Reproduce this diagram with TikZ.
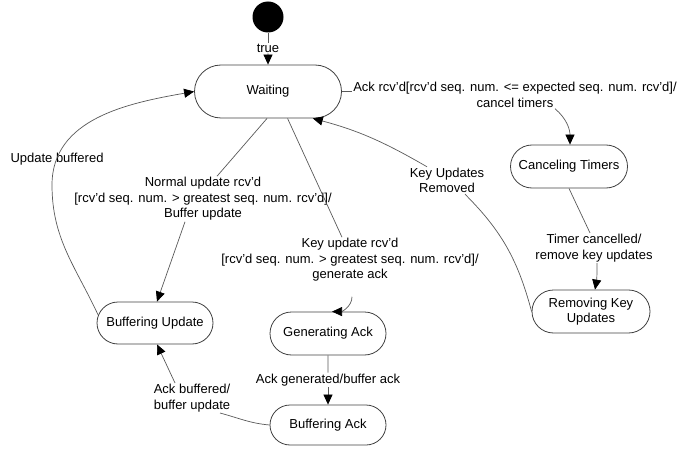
\documentclass[tikz,border=0pt]{standalone}
\usepackage{fontspec}
\setmainfont{Liberation Sans}
\usetikzlibrary{arrows.meta,shapes.misc}

\tikzset{
  state/.style={rounded rectangle, draw=black!75, line width=0.8pt,
                minimum width=120pt, minimum height=43pt, inner sep=2pt, align=center},
  lbl/.style={inner sep=1pt, align=center},
  link/.style={draw=black!65, line width=0.7pt},
  arr/.style={link, -{Triangle[length=10pt,width=9pt,color=black]}},
}

\begin{document}
\begin{tikzpicture}[x=1pt, y=1pt, every node/.style={font=\fontsize{13}{15.5}\selectfont}]
\useasboundingbox (0,0) rectangle (683,448);

%% === stati ===
\node[circle, fill=black, minimum size=31pt, inner sep=0pt] (init) at (268,431) {};
\node[state, minimum width=151pt, minimum height=53pt] (wait)   at (268,356.5) {Waiting};
\node[state, minimum width=121pt]                      (cancel) at (569,281.5) {Canceling Timers};
\node[state, minimum width=122pt]                      (remove) at (591,136.5) {Removing Key\\Updates};
\node[state, minimum height=42pt]                      (bufupd) at (155,125)   {Buffering Update};
\node[state]                                           (genack) at (328,114.5) {Generating Ack};
\node[state, minimum height=40pt]                      (bufack) at (328,23)    {Buffering Ack};

%% === etichette delle transizioni ===
\node[lbl] (truel) at (268,400) {true};
\node[lbl] (ackl)  at (515,353) {Ack rcv'd[rcv'd seq. num. <= expected seq. num. rcv'd]/\\cancel timers};
\node[lbl] (tcl)   at (594,200) {Timer cancelled/\\remove key updates};
\node[lbl] (kur)   at (447,267.5) {Key Updates\\Removed};
\node[lbl] (upb)   at (57,289)  {Update buffered};
\node[lbl] (nul)   at (203,249) {Normal update rcv'd\\{}[rcv'd seq. num. > greatest seq. num. rcv'd]/\\Buffer update};
\node[lbl] (kul)   at (350,188) {Key update rcv'd\\{}[rcv'd seq. num. > greatest seq. num. rcv'd]/\\generate ack};
\node[lbl] (agl)   at (328,68)  {Ack generated/buffer ack};
\node[lbl] (abl)   at (192,50)  {Ack buffered/\\buffer update};
\coordinate (ubturn) at (52,263);

%% === transizioni ===
\draw[link] (init) -- (truel);
\draw[arr]  (truel) -- (wait);

\draw[link] (wait.east) -- (wait.east -| ackl.west);
\draw[arr]  ([xshift=40pt]ackl.south) to[out=-40,in=90] ([xshift=1pt]cancel.north);

\draw[link] (cancel.south) to[out=-65,in=115] ([xshift=-4pt]tcl.north);
\draw[arr]  ([xshift=3pt]tcl.south) to[out=-90,in=80] ([xshift=4pt]remove.north);

\draw[link] (remove.west) to[out=105,in=-45] ([xshift=18pt]kur.south);
\draw[arr]  ([xshift=-20pt]kur.north) to[out=150,in=-15] (wait.-31);

\draw[link] (wait.268) -- ([xshift=14pt]nul.north);
\draw[arr]  ([xshift=-18pt]nul.south) -- ([xshift=2pt]bufupd.north);

\draw[link] (wait.306) -- ([xshift=-8pt]kul.north);
\draw[arr]  ([xshift=2pt,yshift=-14pt]kul.south) to[out=-90,in=0] ([xshift=4pt]genack.north);

\draw[link] (genack) -- (agl);
\draw[arr]  (agl) -- (bufack);

\draw[link] (bufack.west) to[out=175,in=-15] ([xshift=28pt]abl.south);
\draw[arr]  ([xshift=-17pt]abl.north) -- ([xshift=2pt]bufupd.south);

%% ritorno a Waiting passando per "Update buffered"
\draw[arr]  (bufupd.172) to[out=115,in=-90] (ubturn) to[out=90,in=190] (wait.west);

\end{tikzpicture}
\end{document}
